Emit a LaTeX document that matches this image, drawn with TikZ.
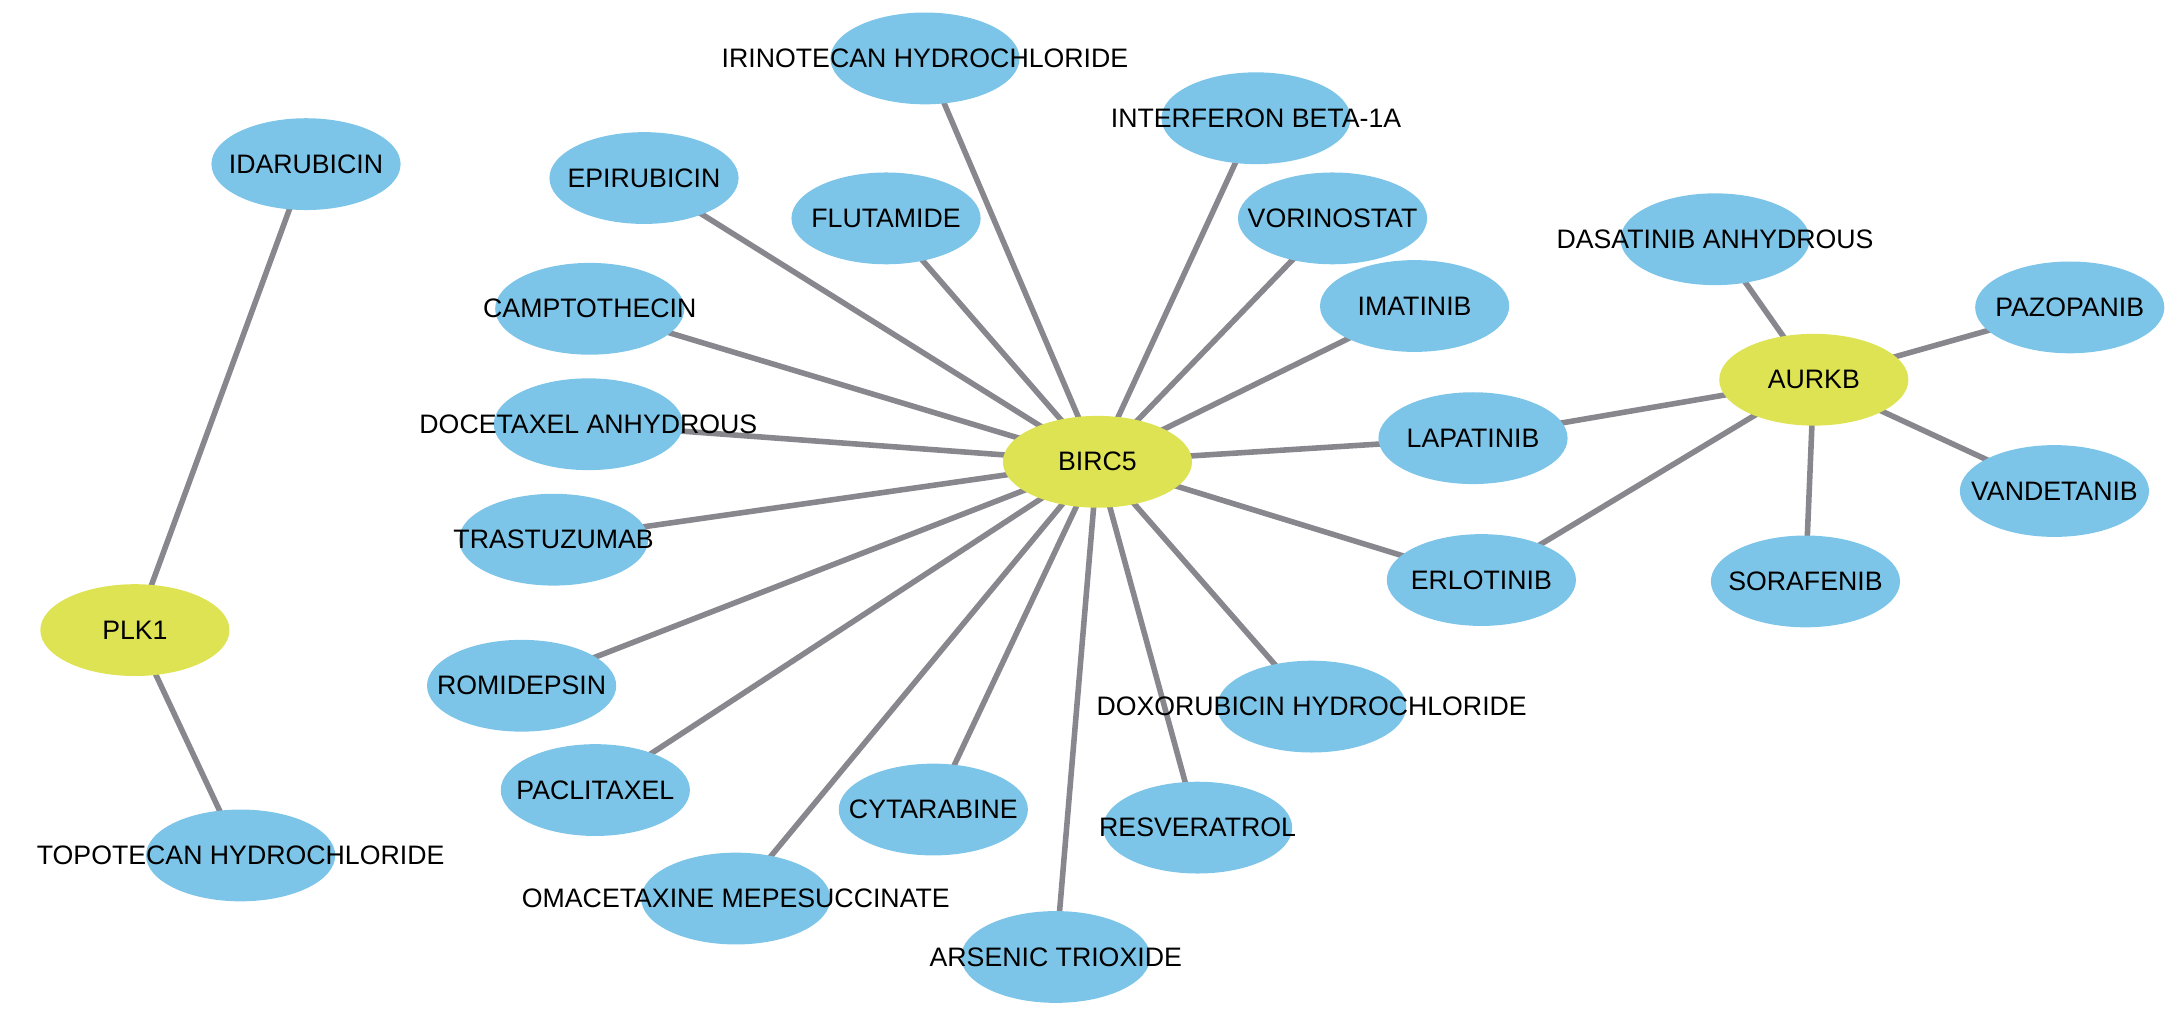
\documentclass[tikz,border=0pt]{standalone}
\usepackage{fontspec}
\setmainfont{Liberation Sans}
\usetikzlibrary{shapes.geometric,backgrounds}
\definecolor{drugblue}{HTML}{7CC5E8}
\definecolor{geneyel}{HTML}{DDE352}
\definecolor{edgegray}{HTML}{88878D}
\begin{document}
\begin{tikzpicture}[x=0.5pt,y=-0.5pt,
  drug/.style={ellipse,fill=drugblue,minimum width=68pt,minimum height=33pt,inner sep=0pt},
  gene/.style={ellipse,fill=geneyel,minimum width=68pt,minimum height=33pt,inner sep=0pt},
  lbl/.style={font=\fontsize{9.6}{11}\selectfont,inner sep=0pt},
  edge/.style={draw=edgegray,line width=2pt}]
\useasboundingbox (0,0) rectangle (1568,733);
\foreach \n/\x/\y/\s/\t in {
 plk/97/453/gene/PLK1,
 ida/220/118/drug/IDARUBICIN,
 topo/173/615/drug/TOPOTECAN HYDROCHLORIDE,
 birc/789/332/gene/BIRC5,
 iri/665/42/drug/IRINOTECAN HYDROCHLORIDE,
 epi/463/128/drug/EPIRUBICIN,
 flu/637/157/drug/FLUTAMIDE,
 inf/903/85/drug/INTERFERON BETA-1A,
 vor/958/157/drug/VORINOSTAT,
 ima/1017/220/drug/IMATINIB,
 camp/424/222/drug/CAMPTOTHECIN,
 doce/423/305/drug/DOCETAXEL ANHYDROUS,
 lapa/1059/315/drug/LAPATINIB,
 tras/398/388/drug/TRASTUZUMAB,
 erlo/1065/417/drug/ERLOTINIB,
 romi/375/493/drug/ROMIDEPSIN,
 doxo/943/508/drug/DOXORUBICIN HYDROCHLORIDE,
 pacl/428/568/drug/PACLITAXEL,
 cyta/671/582/drug/CYTARABINE,
 resv/861/595/drug/RESVERATROL,
 omac/529/646/drug/OMACETAXINE MEPESUCCINATE,
 arse/759/688/drug/ARSENIC TRIOXIDE,
 aurk/1304/273/gene/AURKB,
 dasa/1233/172/drug/DASATINIB ANHYDROUS,
 pazo/1488/221/drug/PAZOPANIB,
 vand/1477/353/drug/VANDETANIB,
 sora/1298/418/drug/SORAFENIB}
 {\node[\s] (\n) at (\x,\y) {};}
\begin{scope}[on background layer]
\foreach \a/\b in {plk/ida,plk/topo,birc/iri,birc/epi,birc/flu,birc/inf,birc/vor,birc/ima,
 birc/camp,birc/doce,birc/lapa,birc/tras,birc/erlo,birc/romi,birc/doxo,birc/pacl,birc/cyta,
 birc/resv,birc/omac,birc/arse,aurk/lapa,aurk/erlo,aurk/dasa,aurk/pazo,aurk/vand,aurk/sora}
 {\draw[edge] (\a.center) -- (\b.center);}
\end{scope}
\foreach \n/\t in {plk/PLK1,ida/IDARUBICIN,topo/TOPOTECAN HYDROCHLORIDE,birc/BIRC5,
 iri/IRINOTECAN HYDROCHLORIDE,epi/EPIRUBICIN,flu/FLUTAMIDE,inf/INTERFERON BETA-1A,
 vor/VORINOSTAT,ima/IMATINIB,camp/CAMPTOTHECIN,doce/DOCETAXEL ANHYDROUS,lapa/LAPATINIB,
 tras/TRASTUZUMAB,erlo/ERLOTINIB,romi/ROMIDEPSIN,doxo/DOXORUBICIN HYDROCHLORIDE,
 pacl/PACLITAXEL,cyta/CYTARABINE,resv/RESVERATROL,omac/OMACETAXINE MEPESUCCINATE,
 arse/ARSENIC TRIOXIDE,aurk/AURKB,dasa/DASATINIB ANHYDROUS,pazo/PAZOPANIB,
 vand/VANDETANIB,sora/SORAFENIB}
 {\node[lbl] at (\n) {\t};}
\end{tikzpicture}
\end{document}
